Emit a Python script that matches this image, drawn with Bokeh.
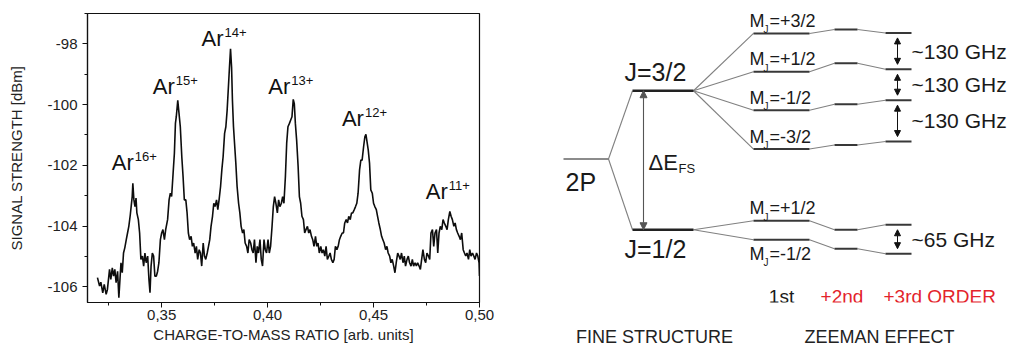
import numpy as np
from bokeh.plotting import figure
from bokeh.models import (Range1d, FixedTicker, CustomJSTickFormatter, ColumnDataSource,
                          Label, Arrow, NormalHead, LinearAxis)
from bokeh.layouts import row
from bokeh.embed import file_html
from bokeh.resources import INLINE
from bokeh.core.properties import value

FONT = "Liberation Sans"
RED = "#e3232b"

# ---------------- spectrum data (left panel) ----------------
mz = [
    0.3197, 0.3207, 0.3213, 0.3222, 0.3229, 0.3238, 0.3244, 0.3254, 0.3260, 0.3267,
    0.3273, 0.3279, 0.3285, 0.3292, 0.3298, 0.3308, 0.3314, 0.3320, 0.3326, 0.3333,
    0.3339, 0.3345, 0.3352, 0.3356, 0.3361, 0.3364, 0.3369, 0.3374, 0.3379, 0.3383,
    0.3390, 0.3396, 0.3402, 0.3409, 0.3415, 0.3421, 0.3427, 0.3434, 0.3440, 0.3445,
    0.3450, 0.3456, 0.3462, 0.3468, 0.3475, 0.3481, 0.3487, 0.3494, 0.3500, 0.3506,
    0.3513, 0.3519, 0.3528, 0.3535, 0.3541, 0.3547, 0.3554, 0.3560, 0.3565, 0.3569,
    0.3576, 0.3582, 0.3588, 0.3595, 0.3601, 0.3607, 0.3614, 0.3620, 0.3626, 0.3632,
    0.3639, 0.3645, 0.3651, 0.3658, 0.3664, 0.3670, 0.3677, 0.3683, 0.3689, 0.3696,
    0.3702, 0.3708, 0.3715, 0.3721, 0.3727, 0.3733, 0.3740, 0.3746, 0.3752, 0.3759,
    0.3765, 0.3771, 0.3778, 0.3784, 0.3790, 0.3797, 0.3803, 0.3809, 0.3815, 0.3820,
    0.3825, 0.3830, 0.3834, 0.3839, 0.3844, 0.3850, 0.3856, 0.3863, 0.3869, 0.3875,
    0.3882, 0.3888, 0.3894, 0.3901, 0.3907, 0.3913, 0.3920, 0.3926, 0.3932, 0.3938,
    0.3945, 0.3951, 0.3957, 0.3964, 0.3970, 0.3976, 0.3983, 0.3989, 0.3995, 0.4002,
    0.4008, 0.4014, 0.4021, 0.4027, 0.4033, 0.4039, 0.4046, 0.4052, 0.4058, 0.4065,
    0.4071, 0.4077, 0.4084, 0.4090, 0.4096, 0.4103, 0.4109, 0.4115, 0.4121, 0.4126,
    0.4131, 0.4137, 0.4144, 0.4150, 0.4156, 0.4162, 0.4169, 0.4175, 0.4181, 0.4188,
    0.4194, 0.4200, 0.4207, 0.4213, 0.4219, 0.4226, 0.4232, 0.4238, 0.4244, 0.4251,
    0.4257, 0.4263, 0.4270, 0.4276, 0.4282, 0.4289, 0.4295, 0.4301, 0.4308, 0.4314,
    0.4320, 0.4327, 0.4333, 0.4339, 0.4345, 0.4352, 0.4358, 0.4364, 0.4371, 0.4377,
    0.4383, 0.4390, 0.4396, 0.4402, 0.4409, 0.4415, 0.4421, 0.4427, 0.4434, 0.4440,
    0.4446, 0.4453, 0.4459, 0.4464, 0.4468, 0.4475, 0.4481, 0.4487, 0.4494, 0.4500,
    0.4506, 0.4513, 0.4519, 0.4525, 0.4532, 0.4538, 0.4544, 0.4550, 0.4557, 0.4563,
    0.4569, 0.4576, 0.4582, 0.4588, 0.4595, 0.4601, 0.4607, 0.4614, 0.4620, 0.4626,
    0.4632, 0.4639, 0.4645, 0.4651, 0.4658, 0.4664, 0.4670, 0.4677, 0.4683, 0.4689,
    0.4696, 0.4702, 0.4708, 0.4715, 0.4721, 0.4727, 0.4733, 0.4740, 0.4746, 0.4752,
    0.4759, 0.4765, 0.4771, 0.4778, 0.4784, 0.4790, 0.4797, 0.4803, 0.4809, 0.4815,
    0.4822, 0.4828, 0.4834, 0.4841, 0.4847, 0.4853, 0.4860, 0.4866, 0.4872, 0.4879,
    0.4885, 0.4891, 0.4897, 0.4904, 0.4910, 0.4916, 0.4923, 0.4929, 0.4935, 0.4941,
    0.4948, 0.4954, 0.4960, 0.4967, 0.4973, 0.4979, 0.4986, 0.4992, 0.4998, 0.5000,
]
signal_dbm = [
    -105.70, -105.98, -105.85, -106.20, -105.92, -106.25, -106.09, -105.43, -105.76, -105.38,
    -105.65, -105.43, -105.87, -105.49, -106.36, -105.21, -105.54, -104.89, -104.72, -104.45,
    -104.23, -104.01, -103.63, -103.36, -103.03, -102.59, -103.14, -103.36, -103.08, -103.57,
    -103.79, -104.23, -105.10, -104.99, -105.32, -104.89, -105.21, -104.99, -105.76, -106.20,
    -105.32, -104.89, -104.99, -105.65, -105.65, -105.49, -105.21, -104.45, -104.23, -104.12,
    -104.45, -104.12, -103.79, -103.14, -102.92, -103.03, -102.26, -101.61, -100.62, -100.40,
    -99.86, -100.30, -100.73, -101.72, -102.37, -103.14, -103.14, -103.57, -104.23, -104.45,
    -104.34, -104.67, -104.56, -104.89, -104.67, -105.10, -104.78, -104.89, -105.32, -104.56,
    -104.99, -105.10, -104.89, -104.67, -104.45, -104.01, -103.68, -103.25, -103.36, -103.14,
    -103.46, -103.14, -102.70, -102.15, -101.72, -100.95, -100.73, -100.19, -99.42, -98.77,
    -98.16, -98.77, -99.86, -100.73, -101.28, -101.93, -102.70, -103.25, -103.57, -104.01,
    -104.23, -104.12, -104.56, -104.67, -104.89, -104.45, -104.56, -104.78, -104.89, -104.45,
    -105.21, -104.67, -104.89, -104.45, -105.10, -105.32, -104.45, -104.78, -104.89, -104.45,
    -104.89, -104.67, -104.01, -103.36, -103.03, -103.25, -103.57, -103.14, -103.36, -103.25,
    -103.03, -103.25, -102.37, -101.28, -100.73, -100.62, -100.51, -100.40, -99.83, -99.97,
    -100.62, -101.17, -102.04, -103.03, -103.25, -103.68, -103.79, -104.23, -104.12, -104.01,
    -104.23, -104.12, -104.34, -104.45, -104.67, -104.34, -104.67, -104.56, -104.89, -104.67,
    -104.89, -104.78, -104.99, -104.67, -105.10, -104.99, -104.89, -105.10, -105.21, -105.10,
    -104.67, -104.78, -104.67, -104.45, -104.34, -104.23, -104.23, -103.90, -103.79, -103.90,
    -103.68, -103.79, -103.57, -103.57, -103.46, -103.36, -103.25, -102.92, -102.15, -101.83,
    -101.83, -101.39, -101.06, -100.98, -101.17, -101.50, -101.93, -102.81, -102.92, -103.25,
    -103.36, -103.46, -103.68, -103.90, -104.12, -104.34, -104.45, -104.56, -104.78, -104.67,
    -104.89, -104.99, -105.21, -105.10, -105.32, -105.54, -105.21, -104.89, -104.99, -105.10,
    -104.89, -105.21, -104.99, -105.32, -105.10, -104.99, -105.21, -105.32, -105.10, -105.32,
    -105.21, -105.32, -105.21, -105.32, -105.43, -105.10, -104.78, -105.10, -105.21, -104.89,
    -104.99, -105.10, -104.23, -104.12, -104.67, -104.23, -104.12, -104.89, -104.23, -104.01,
    -104.12, -103.79, -103.90, -104.01, -104.12, -103.79, -103.52, -103.68, -103.79, -104.01,
    -103.90, -104.12, -104.23, -104.34, -104.45, -104.23, -104.78, -104.89, -104.99, -104.89,
    -105.10, -104.78, -104.99, -104.89, -104.99, -105.10, -104.89, -104.99, -105.21, -105.65,
]
ion_charges = ["16+", "15+", "14+", "13+", "12+", "11+"]
ion_peak_mz = [0.3364, 0.3576, 0.3825, 0.4121, 0.4464, 0.4860]

x_ticks = [0.35, 0.40, 0.45, 0.50]
x_minor = [0.325, 0.375, 0.425, 0.475]
y_ticks = [-106, -104, -102, -100, -98]
y_minor = [-105, -103, -101, -99, -97]
x_title = "CHARGE-TO-MASS RATIO [arb. units]"
y_title = "SIGNAL STRENGTH [dBm]"

# ---------------- level diagram data (right panel, arbitrary energy units) ----------------
term_label = "2P"
term_E = 0.0
fs_labels = ["J=3/2", "J=1/2"]
fs_E = [68.5, -71.0]
mj_32 = ["+3/2", "+1/2", "-1/2", "-3/2"]
mj_32_E1 = [126.0, 87.5, 49.0, 10.0]
mj_32_E2 = [130.0, 96.0, 55.0, 14.0]
mj_32_E3 = [126.5, 90.0, 59.0, 17.5]
mj_12 = ["+1/2", "-1/2"]
mj_12_E1 = [-62.0, -81.0]
mj_12_E2 = [-71.0, -90.0]
mj_12_E3 = [-66.0, -95.0]
split_labels_32 = ["~130 GHz", "~130 GHz", "~130 GHz"]
split_labels_12 = ["~65 GHz"]
order_labels = ["1st", "+2nd", "+3rd ORDER"]
section_labels = ["FINE STRUCTURE", "ZEEMAN EFFECT"]

H = 349
BORDER_TOP, BORDER_BOTTOM = 13, 46

# ================= LEFT: spectrum =================
p1 = figure(width=508, height=H, x_range=Range1d(0.315, 0.500), y_range=Range1d(-106.52, -97.0),
            output_backend="svg", toolbar_location=None,
            min_border_left=87, min_border_right=29,
            min_border_top=BORDER_TOP, min_border_bottom=BORDER_BOTTOM)
p1.grid.visible = False
p1.outline_line_color = "#111111"
p1.outline_line_width = 1.2
p1.background_fill_color = "white"
p1.border_fill_color = "white"

p1.line(mz, signal_dbm, line_color="#0d0d0d", line_width=1.6)

for ax in (p1.xaxis[0], p1.yaxis[0]):
    ax.axis_line_color = "#111111"
    ax.axis_line_width = 1.2
    ax.major_tick_in = 0
    ax.major_tick_out = 5
    ax.minor_tick_in = 0
    ax.minor_tick_out = 3
    ax.major_tick_line_color = "#111111"
    ax.minor_tick_line_color = "#111111"
    ax.major_label_text_font = FONT
    ax.major_label_text_font_size = "15px"
    ax.major_label_text_color = "#222222"
    ax.axis_label_text_font = FONT
    ax.axis_label_text_font_size = "15px"
    ax.axis_label_text_font_style = "normal"
    ax.axis_label_text_color = "#222222"

p1.xaxis.ticker = FixedTicker(ticks=x_ticks, minor_ticks=x_minor)
p1.yaxis.ticker = FixedTicker(ticks=y_ticks, minor_ticks=y_minor)
p1.xaxis.formatter = CustomJSTickFormatter(code="return tick.toFixed(2).replace('.', ',');")
p1.yaxis.formatter = CustomJSTickFormatter(code="return tick.toFixed(0);")
p1.xaxis.major_label_standoff = 2
p1.yaxis.major_label_standoff = 5
p1.yaxis.axis_label = y_title
p1.yaxis.axis_label_standoff = 19
p1.xaxis.axis_label = x_title
p1.xaxis.axis_label_standoff = 3

# ion labels anchored at the peak maxima
mz_arr = np.array(mz)
sig_arr = np.array(signal_dbm)
peak_x, peak_y = [], []
for m in ion_peak_mz:
    i = int(np.argmin(np.abs(mz_arr - m)))
    peak_x.append(mz_arr[i])
    peak_y.append(sig_arr[i])
label_dx = [1, -3, -7, -3, -2, -2]      # style: horizontal nudge (px)
label_lift = [13, 6, 2, 5, 8, 12]       # style: baseline height above peak (px)
ion_src = ColumnDataSource(dict(
    x=peak_x, y=peak_y, ar=["Ar"] * len(ion_charges), q=ion_charges,
    dx=label_dx, dy=[-(v + 8) for v in label_lift],
    dxs=[v + 1 for v in label_dx], dys=[-(v + 14) for v in label_lift]))
p1.text(x="x", y="y", text="ar", x_offset="dx", y_offset="dy", source=ion_src,
        text_align="right", text_baseline="middle", text_font=value(FONT),
        text_font_size="22px", text_color="#111111")
p1.text(x="x", y="y", text="q", x_offset="dxs", y_offset="dys", source=ion_src,
        text_align="left", text_baseline="middle", text_font=value(FONT),
        text_font_size="13px", text_color="#111111")

# ================= RIGHT: level diagram =================
COL_TERM = (55, 100)
COL_FS = (124, 185)
COL_Z1 = (245, 301)
COL_Z2 = (326, 349)
COL_Z3 = (377, 403)
ARROW_X_FS = 135
ARROW_X_Z = 389
SECTION_X = [146, 371]

p2 = figure(width=503, height=H, x_range=Range1d(0, 503), y_range=Range1d(-144, 146),
            output_backend="svg", toolbar_location=None,
            min_border_left=0, min_border_right=0,
            min_border_top=BORDER_TOP, min_border_bottom=BORDER_BOTTOM,
            x_axis_type=None, y_axis_type=None)
p2.grid.visible = False
p2.outline_line_color = None
p2.background_fill_color = "white"
p2.border_fill_color = "white"

groups = [(0, mj_32, mj_32_E1, mj_32_E2, mj_32_E3), (1, mj_12, mj_12_E1, mj_12_E2, mj_12_E3)]

# connectors
cx, cy = [], []
for j, e in enumerate(fs_E):
    cx.append([COL_TERM[1], COL_FS[0]]); cy.append([term_E, e])
for j, names, E1, E2, E3 in groups:
    for a, b, c in zip(E1, E2, E3):
        cx.append([COL_FS[1], COL_Z1[0]]); cy.append([fs_E[j], a])
        cx.append([COL_Z1[1], COL_Z2[0]]); cy.append([a, b])
        cx.append([COL_Z2[1], COL_Z3[0]]); cy.append([b, c])
p2.multi_line(cx, cy, line_color="#808080", line_width=1.1)

# levels
p2.segment(x0=[COL_TERM[0]], y0=[term_E], x1=[COL_TERM[1]], y1=[term_E], line_color="#666666", line_width=1.4)
p2.segment(x0=[COL_FS[0]] * 2, y0=fs_E, x1=[COL_FS[1]] * 2, y1=fs_E, line_color="#222222", line_width=2.4)
for j, names, E1, E2, E3 in groups:
    for col, Es in ((COL_Z1, E1), (COL_Z2, E2), (COL_Z3, E3)):
        p2.segment(x0=[col[0]] * len(Es), y0=Es, x1=[col[1]] * len(Es), y1=Es,
                   line_color="#383838", line_width=2.0)

def txt(fig, x, y, t, size, color="#1a1a1a", align="left", dx=0, dy=0):
    # dy: screen pixels, positive = up; text vertically centred on the anchor
    fig.add_layout(Label(x=x, y=y, text=t, text_font=FONT, text_font_size=size,
                         text_color=color, text_align=align, text_baseline="middle",
                         x_offset=dx, y_offset=dy))

# fine-structure labels
txt(p2, COL_TERM[0] + 2, term_E, term_label, "25px", dy=-23)
txt(p2, COL_FS[0] - 8, fs_E[0], fs_labels[0], "25px", dy=19)
txt(p2, COL_FS[0] - 8, fs_E[1], fs_labels[1], "25px", dy=-19)
txt(p2, ARROW_X_FS + 5, (fs_E[0] + fs_E[1]) / 2, "\u0394E", "22px", dy=-2)
txt(p2, ARROW_X_FS + 35, (fs_E[0] + fs_E[1]) / 2, "FS", "13px", dy=-8)

# M_J labels
for j, names, E1, E2, E3 in groups:
    for k, (nm, e) in enumerate(zip(names, E1)):
        below = (j == 1 and k == 1)
        off = -14 if below else 12.5
        x0 = COL_Z1[0] - 4
        txt(p2, x0, e, "M", "18px", dy=off)
        txt(p2, x0, e, "J", "10px", dx=14, dy=off - 9)
        txt(p2, x0, e, "=" + nm, "18px", dx=20, dy=off)

# arrows
p2.add_layout(Arrow(x_start=ARROW_X_FS, y_start=fs_E[0], x_end=ARROW_X_FS, y_end=fs_E[1],
                    line_color="#555555", line_width=1.1,
                    start=NormalHead(size=7, fill_color="#555555", line_color="#555555"),
                    end=NormalHead(size=7, fill_color="#555555", line_color="#555555")))
gap = 5
for E3, labs in ((mj_32_E3, split_labels_32), (mj_12_E3, split_labels_12)):
    for k, lab in enumerate(labs):
        top, bot = E3[k], E3[k + 1]
        p2.add_layout(Arrow(x_start=ARROW_X_Z, y_start=top - gap, x_end=ARROW_X_Z, y_end=bot + gap,
                            line_color="#111111", line_width=1.0,
                            start=NormalHead(size=6, fill_color="#111111", line_color="#111111"),
                            end=NormalHead(size=6, fill_color="#111111", line_color="#111111")))
        txt(p2, COL_Z3[1], (top + bot) / 2, lab, "21px")

# order labels
oy = -137.5
txt(p2, (COL_Z1[0] + COL_Z1[1]) / 2, oy, order_labels[0], "19px", align="center")
txt(p2, (COL_Z2[0] + COL_Z2[1]) / 2 - 4, oy, order_labels[1], "19px", color=RED, align="center")
txt(p2, COL_Z3[0] - 2, oy, order_labels[2], "19px", color=RED)

# section labels (tick labels of an invisible axis so they can sit below the frame)
sec_axis = LinearAxis(ticker=FixedTicker(ticks=SECTION_X, minor_ticks=[]),
                      major_label_overrides={SECTION_X[0]: section_labels[0],
                                             SECTION_X[1]: section_labels[1]},
                      axis_line_color=None, major_tick_line_color=None, minor_tick_line_color=None,
                      major_tick_out=0, major_tick_in=0, minor_tick_out=0, minor_tick_in=0,
                      major_label_standoff=24, major_label_text_font=FONT,
                      major_label_text_font_size="18px", major_label_text_color="#222222")
p2.add_layout(sec_axis, "below")

layout = row(p1, p2)
open("out.html", "w").write(file_html(layout, INLINE))
